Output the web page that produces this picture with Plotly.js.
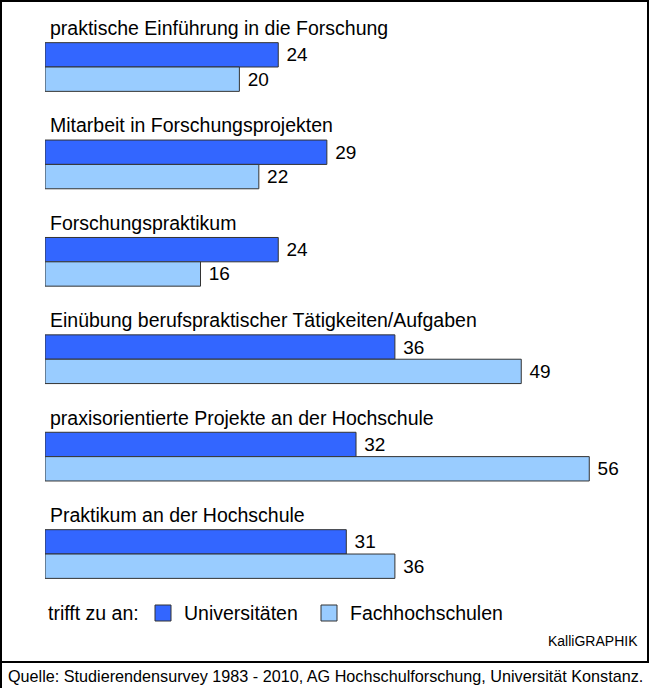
<!DOCTYPE html>
<html>
<head>
<meta charset="utf-8">
<script src="https://cdn.plot.ly/plotly-3.0.1.min.js"></script>
<style>html,body{margin:0;padding:0;background:#fff;}#chart{width:651px;height:688px;}</style>
</head>
<body>
<div id="chart"></div>
<script>
const categories = [
  "praktische Einführung in die Forschung",
  "Mitarbeit in Forschungsprojekten",
  "Forschungspraktikum",
  "Einübung berufspraktischer Tätigkeiten/Aufgaben",
  "praxisorientierte Projekte an der Hochschule",
  "Praktikum an der Hochschule"
];
const universitaeten = [24, 29, 24, 36, 32, 31];
const fachhochschulen = [20, 22, 16, 49, 56, 36];
const seriesNames = ["Universitäten", "Fachhochschulen"];
const seriesColors = ["#3366ff", "#99ccff"];
const legendTitle = "trifft zu an:";
const credit = "KalliGRAPHIK";
const source = "Quelle: Studierendensurvey 1983 - 2010, AG Hochschulforschung, Universität Konstanz.";

const W = 651, H = 688;
const idx = categories.map((c, i) => i);
const font = "Liberation Sans, Arial, sans-serif";
const px = x => x / W;
const py = y => 1 - y / H;

function barTrace(vals, name, color) {
  return {
    type: "bar", orientation: "h", name: name,
    x: vals, y: idx,
    marker: {color: color, line: {color: "#333333", width: 1}},
    texttemplate: " %{x}", textposition: "outside", cliponaxis: false,
    textfont: {family: font, size: 19, color: "#000"},
    hoverinfo: "skip", showlegend: false
  };
}

const traces = [
  barTrace(universitaeten, seriesNames[0], seriesColors[0]),
  barTrace(fachhochschulen, seriesNames[1], seriesColors[1])
];

const annotations = categories.map((c, i) => ({
  text: c, x: 0, y: i, xref: "x", yref: "y",
  xanchor: "left", yanchor: "middle", xshift: 3, yshift: 39,
  showarrow: false, font: {family: font, size: 19.5, color: "#000"}
}));
// legend (custom, to match the square swatches)
annotations.push({
  text: legendTitle, xref: "paper", yref: "paper", x: px(46), y: py(613),
  xanchor: "left", yanchor: "middle", showarrow: false,
  font: {family: font, size: 19.5, color: "#000"}
});
const swatchX = [155, 321];
const labelX = [182, 348];
seriesNames.forEach((n, i) => annotations.push({
  text: n, xref: "paper", yref: "paper", x: px(labelX[i]), y: py(613),
  xanchor: "left", yanchor: "middle", showarrow: false,
  font: {family: font, size: 19.5, color: "#000"}
}));
annotations.push({
  text: credit, xref: "paper", yref: "paper", x: px(640), y: py(641),
  xanchor: "right", yanchor: "middle", showarrow: false,
  font: {family: font, size: 14, color: "#000"}
});
annotations.push({
  text: source, xref: "paper", yref: "paper", x: px(6), y: py(676),
  xanchor: "left", yanchor: "middle", showarrow: false,
  font: {family: font, size: 16.2, color: "#000"}
});

const shapes = [
  {type: "rect", xref: "paper", yref: "paper", x0: px(1), x1: px(648), y0: py(662), y1: py(1),
   line: {color: "#000", width: 2}},
  {type: "line", xref: "paper", yref: "paper", x0: px(1), x1: px(1), y0: 0, y1: py(662),
   line: {color: "#000", width: 2}}
];
seriesColors.forEach((c, i) => shapes.push({
  type: "rect", xref: "paper", yref: "paper",
  x0: px(swatchX[i]), x1: px(swatchX[i] + 16), y0: py(621), y1: py(605),
  fillcolor: c, line: {color: "#333333", width: 1}
}));

const layout = {
  width: W, height: H,
  margin: {l: 0, r: 0, t: 0, b: 0},
  paper_bgcolor: "#fff", plot_bgcolor: "rgba(0,0,0,0)",
  barmode: "group", bargap: 0.5, bargroupgap: 0,
  xaxis: {domain: [px(45), px(647.6)], range: [0, 62], visible: false, fixedrange: true},
  yaxis: {domain: [py(600), 1], range: [5.472, -0.688], visible: false, fixedrange: true},
  showlegend: false,
  annotations: annotations,
  shapes: shapes
};

Plotly.newPlot("chart", traces, layout, {displayModeBar: false, staticPlot: true});
</script>
</body>
</html>
